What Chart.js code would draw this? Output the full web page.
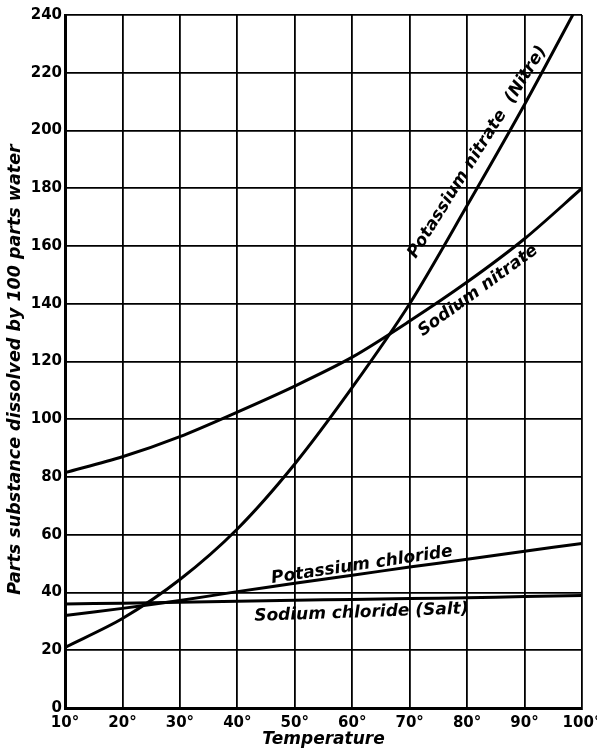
<!DOCTYPE html>
<html>
<head>
<meta charset="utf-8">
<script src="https://cdn.jsdelivr.net/npm/chart.js@4.4.1/dist/chart.umd.min.js"></script>
<style>
  html, body { margin: 0; padding: 0; background: #fff; }
  #wrap { width: 597px; height: 750px; }
</style>
</head>
<body>
<div id="wrap"><canvas id="solChart" width="597" height="750"></canvas></div>
<script>
// temperature (degrees) and solubility (parts per 100 parts water)
const temps = [10, 20, 30, 40, 50, 60, 70, 80, 90, 100];
const potassiumNitrate = [21, 31, 44.5, 62, 84.5, 111, 140, 174, 209, 246];
const sodiumNitrate = [81.5, 87, 94, 102.5, 111.5, 121.5, 134, 147.5, 162.5, 180];
const potassiumChloride = [32, 34.5, 37.2, 40.3, 43.2, 46, 48.8, 51.5, 54.3, 57];
const sodiumChloride = [36, 36.3, 36.6, 37, 37.3, 37.6, 37.9, 38.2, 38.6, 39];

// curve labels: text, centre (temp, value), rotation in degrees
const curveLabels = [
  { text: 'Potassium nitrate  (Nitre)', x: 81.8, y: 192.5, angle: -58 },
  { text: 'Sodium nitrate', x: 81.9, y: 144.5, angle: -36 },
  { text: 'Potassium chloride', x: 61.7, y: 49.5, angle: -8.5 },
  { text: 'Sodium chloride (Salt)', x: 61.6, y: 33, angle: -2 }
];
const yTitle = 'Parts substance dissolved by 100 parts water';

function toPoints(vals) {
  return vals.map((v, i) => ({ x: temps[i], y: v }));
}

const labelPlugin = {
  id: 'curveLabels',
  afterDatasetsDraw(chart) {
    const ctx = chart.ctx;
    const xs = chart.scales.x, ys = chart.scales.y;
    const area = chart.chartArea;
    ctx.save();
    ctx.fillStyle = '#000';
    ctx.textAlign = 'center';
    ctx.textBaseline = 'middle';
    ctx.font = 'italic bold 17px "DejaVu Sans"';
    curveLabels.forEach(l => {
      ctx.save();
      ctx.translate(xs.getPixelForValue(l.x), ys.getPixelForValue(l.y));
      ctx.rotate(l.angle * Math.PI / 180);
      ctx.fillText(l.text, 0, 0);
      ctx.restore();
    });
    // y axis title, sits a little below the middle of the plot
    ctx.font = 'italic bold 17.5px "DejaVu Sans"';
    ctx.translate(15, (area.top + area.bottom) / 2 + 8);
    ctx.rotate(-Math.PI / 2);
    ctx.fillText(yTitle, 0, 0);
    ctx.restore();
  }
};

const lineStyle = {
  borderColor: '#000',
  borderWidth: 3,
  pointRadius: 0,
  fill: false,
  tension: 0.3
};

new Chart(document.getElementById('solChart'), {
  type: 'line',
  data: {
    datasets: [
      Object.assign({ label: 'Potassium nitrate (Nitre)', data: toPoints(potassiumNitrate) }, lineStyle),
      Object.assign({ label: 'Sodium nitrate', data: toPoints(sodiumNitrate) }, lineStyle),
      Object.assign({ label: 'Potassium chloride', data: toPoints(potassiumChloride) }, lineStyle),
      Object.assign({ label: 'Sodium chloride (Salt)', data: toPoints(sodiumChloride) }, lineStyle)
    ]
  },
  options: {
    responsive: false,
    animation: false,
    layout: { padding: { top: 15, right: 15, left: 0, bottom: 0 } },
    plugins: {
      legend: { display: false },
      tooltip: { enabled: false }
    },
    scales: {
      x: {
        type: 'linear',
        min: 10,
        max: 100,
        afterFit: s => { s.height = 42; s.paddingRight = 0; s.paddingLeft = 0; },
        ticks: {
          stepSize: 10,
          color: '#000',
          padding: 6,
          maxRotation: 0,
          font: { family: 'DejaVu Sans', weight: 'bold', size: 15 },
          callback: v => v + '°'
        },
        grid: { color: '#000', lineWidth: 1.8, drawTicks: false },
        border: { color: '#000', width: 3 },
        title: {
          display: true,
          text: 'Temperature',
          color: '#000',
          padding: { top: 0, bottom: 0 },
          font: { family: 'DejaVu Sans', weight: 'bold', style: 'italic', size: 17 }
        }
      },
      y: {
        min: 0,
        max: 240,
        afterFit: s => { s.width = 65; },
        ticks: {
          stepSize: 20,
          color: '#000',
          padding: 3,
          font: { family: 'DejaVu Sans', weight: 'bold', size: 15 }
        },
        grid: { color: '#000', lineWidth: 1.8, drawTicks: false },
        border: { color: '#000', width: 3 },
        title: { display: false }
      }
    }
  },
  plugins: [labelPlugin]
});
</script>
</body>
</html>
